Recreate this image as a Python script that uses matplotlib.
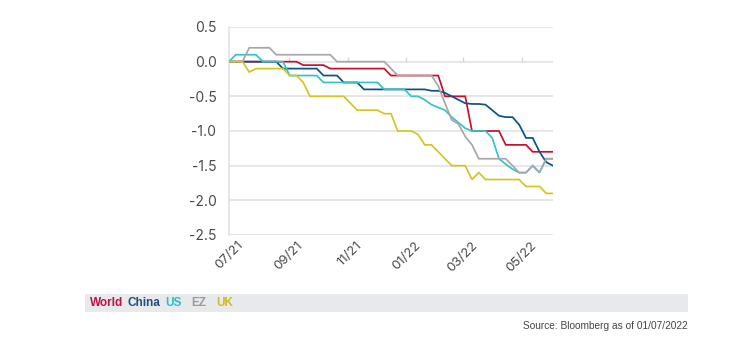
import matplotlib
matplotlib.use("Agg")
import matplotlib.pyplot as plt
import matplotlib.transforms as mtransforms
from matplotlib.patches import Rectangle
import pandas as pd

plt.rcParams['font.family'] = ['Inter', 'DejaVu Sans']

# Weekly observations, July 2021 - June 2022
dates = pd.date_range("2021-07-01", periods=49, freq="7D")

world = [0, 0, 0, 0, 0, 0, 0, 0, 0, 0, 0,
         -0.05, -0.05, -0.05, -0.05,
         -0.1, -0.1, -0.1, -0.1, -0.1, -0.1, -0.1, -0.1, -0.1,
         -0.2, -0.2, -0.2, -0.2, -0.2, -0.2, -0.2, -0.2,
         -0.5, -0.5, -0.5, -0.5,
         -1.0, -1.0, -1.0, -1.0, -1.0,
         -1.2, -1.2, -1.2, -1.2,
         -1.3, -1.3, -1.3, -1.3]

china = [0, 0, 0, 0, 0, 0, 0, 0,
         -0.1, -0.1, -0.1, -0.1, -0.1, -0.1,
         -0.2, -0.2, -0.2,
         -0.3, -0.3, -0.3,
         -0.4, -0.4, -0.4, -0.4, -0.4, -0.4, -0.4, -0.4, -0.4, -0.4,
         -0.42, -0.42, -0.45, -0.5, -0.55, -0.6, -0.61, -0.61, -0.62,
         -0.7, -0.78, -0.8, -0.8, -0.91, -1.1, -1.1, -1.3, -1.45, -1.5]

us = [0, 0.1, 0.1, 0.1, 0.1, 0, 0, 0, 0,
      -0.2, -0.2, -0.2, -0.2, -0.2,
      -0.3, -0.3, -0.3, -0.3, -0.3, -0.3, -0.3, -0.3, -0.3,
      -0.4, -0.4, -0.4, -0.4, -0.5, -0.5,
      -0.55, -0.62, -0.66, -0.7, -0.8, -0.88, -0.96, -1.0, -1.0, -1.0,
      -1.1, -1.4, -1.48, -1.55, -1.6, -1.6, -1.5, -1.6, -1.4, -1.4]

ez = [0, 0, 0, 0.2, 0.2, 0.2, 0.2,
      0.1, 0.1, 0.1, 0.1, 0.1, 0.1, 0.1, 0.1, 0.1,
      0, 0, 0, 0, 0, 0, 0, 0, -0.1,
      -0.2, -0.2, -0.2, -0.2, -0.2, -0.2,
      -0.35, -0.6, -0.84, -0.9, -1.08, -1.2,
      -1.4, -1.4, -1.4, -1.4, -1.4,
      -1.5, -1.6, -1.6, -1.5, -1.6, -1.4, -1.4]

uk = [0, 0, 0, -0.15, -0.1, -0.1, -0.1, -0.1, -0.1,
      -0.2, -0.2, -0.3,
      -0.5, -0.5, -0.5, -0.5, -0.5, -0.5,
      -0.6, -0.7, -0.7, -0.7, -0.7, -0.75, -0.75,
      -1.0, -1.0, -1.0, -1.05, -1.2, -1.2, -1.3, -1.4,
      -1.5, -1.5, -1.5, -1.7, -1.6,
      -1.7, -1.7, -1.7, -1.7, -1.7, -1.7,
      -1.8, -1.8, -1.8, -1.9, -1.9]

series_names = ["World", "China", "US", "EZ", "UK"]
series_values = [world, china, us, ez, uk]
line_colors = ["#c8102e", "#0b5286", "#33c3c9", "#a7a7a7", "#d5c422"]
label_colors = ["#c01040", "#1f4f80", "#2cbccb", "#9a9a9a", "#cdbd1e"]

tick_dates = pd.to_datetime(["2021-07-01", "2021-09-01", "2021-11-01",
                             "2022-01-01", "2022-03-01", "2022-05-01"])
tick_labels = ["07/21", "09/21", "11/21", "01/22", "03/22", "05/22"]
y_ticks = [0.5, 0.0, -0.5, -1.0, -1.5, -2.0, -2.5]
source_text = "Source: Bloomberg as of 01/07/2022"

fig = plt.figure(figsize=(7.5, 3.47), dpi=100)
ax = fig.add_axes([229 / 750, 1 - 235 / 347, 324 / 750, 208 / 347])

grid_color = "#e3e3e3"
for s, v, c in zip(series_names, series_values, line_colors):
    ax.plot(dates, v, color=c, lw=1.25, solid_joinstyle="miter", zorder=3)

ax.set_xlim(dates[0], dates[-1])
ax.set_ylim(-2.5, 0.5)
ax.set_yticks(y_ticks)
ax.set_yticklabels([f"{t:.1f}" for t in y_ticks])
ax.yaxis.grid(True, color=grid_color, lw=1.2, zorder=0)
ax.set_axisbelow(True)

for sp in ["top", "right", "bottom"]:
    ax.spines[sp].set_visible(False)
ax.spines["left"].set_color(grid_color)
ax.spines["left"].set_linewidth(1.2)

ax.tick_params(axis="y", length=0, pad=9, labelsize=10, labelcolor="#4a4a4a")
ax.set_xticks(tick_dates)
ax.set_xticklabels(tick_labels)
ax.tick_params(axis="x", length=0, pad=3, labelsize=9.5, labelcolor="#4a4a4a")
offset = mtransforms.ScaledTranslation(6 / 72, 0, fig.dpi_scale_trans)
for lbl in ax.get_xticklabels():
    lbl.set_rotation(45)
    lbl.set_ha("right")
    lbl.set_va("top")
    lbl.set_rotation_mode("anchor")
    lbl.set_transform(lbl.get_transform() + offset)

# small tick marks sitting on the zero line
ax.vlines(tick_dates[1:], 0, 0.07, color="#d8d8d8", lw=1.0, zorder=1)

# legend strip
fig.patches.append(Rectangle((85 / 750, 1 - 312 / 347), 603 / 750, 18 / 347,
                             transform=fig.transFigure, facecolor="#e8e9eb",
                             edgecolor="none", zorder=0))
x_pos = [90, 128, 165, 191, 216]
for name, col, xp in zip(series_names, label_colors, x_pos):
    fig.text(xp / 750, 1 - 303 / 347, name, color=col, fontsize=8.5,
             fontweight="bold", ha="left", va="center",
             family=["Liberation Sans", "DejaVu Sans"])

fig.text(688 / 750, 1 - 326 / 347, source_text, color="#444444", fontsize=7.3,
         ha="right", va="center", family=["Liberation Sans", "DejaVu Sans"])

fig.savefig("out.png", dpi=100, facecolor="white")
